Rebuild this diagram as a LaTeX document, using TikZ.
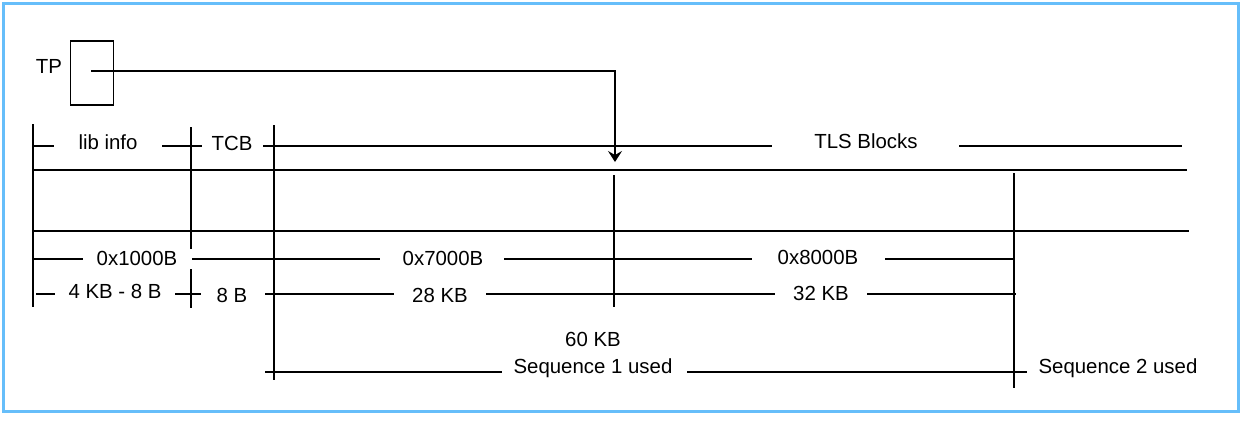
\documentclass[tikz,border=0pt]{standalone}
\usepackage{fontspec}
\setmainfont{Liberation Sans}
\usetikzlibrary{arrows.meta}
\definecolor{frameblue}{RGB}{102,190,250}
\begin{document}
\begin{tikzpicture}[x=0.5pt,y=-0.5pt,
  ln/.style={line width=0.65pt, black},
  lbl/.style={font=\fontsize{10.2}{12}\selectfont, inner sep=0pt, anchor=center},
  boxstyle/.style={draw, line width=0.65pt, minimum width=21.5pt, minimum height=32pt, inner sep=0pt},
]
\useasboundingbox (0,0) rectangle (1244,420);
\draw[frameblue, line width=1.6pt] (3.5,3.5) rectangle (1238.5,411.5);

% TP box and pointer
\node[boxstyle] (tpbox) at (91.75,73) {};
\node[lbl] (tp) at (49,66) {TP};
\coordinate (tpin) at (91,71);
\coordinate (tlstarget) at (615,162);
\draw[ln,-{Stealth[length=5.5pt,width=7pt,inset=2pt]}] (tpin) -| (tlstarget);

% labels
\node[lbl] (libinfo) at (108,142) {lib info};
\node[lbl] (tcb) at (232,143) {TCB};
\node[lbl] (tls) at (866,141) {TLS Blocks};
\node[lbl] (h1000) at (137,258) {0x1000B};
\node[lbl] (h7000) at (443,258) {0x7000B};
\node[lbl] (h8000) at (818,257) {0x8000B};
\node[lbl] (k4) at (115,291) {4 KB - 8 B};
\node[lbl] (b8) at (232,295) {8 B};
\node[lbl] (k28) at (440,295) {28 KB};
\node[lbl] (k32) at (821,293) {32 KB};
\node[lbl] (k60) at (593,339) {60 KB};
\node[lbl] (seq1) at (593,368) {Sequence 1 used};
\node[lbl] (seq2) at (1118,368) {Sequence 2 used};

% header row
\draw[ln] (33,146) -- (54,146);
\draw[ln] (162,146) -- (202,146);
\draw[ln] (263,146) -- (772,146);
\draw[ln] (959,146) -- (1182,146);

% block outline rows
\draw[ln] (33,170) -- (1187,170);
\draw[ln] (32,231) -- (1189,231);

% hex size row
\draw[ln] (33,259) -- (83,259);
\draw[ln] (192,259) -- (380,259);
\draw[ln] (504,259) -- (752,259);
\draw[ln] (885,259) -- (1014,259);

% KB size row
\draw[ln] (36,294) -- (55,294);
\draw[ln] (175,294) -- (201,294);
\draw[ln] (265,294) -- (394,294);
\draw[ln] (486,294) -- (775,294);
\draw[ln] (867,294) -- (1016,294);

% sequence row
\draw[ln] (265,372) -- (502,372);
\draw[ln] (687,372) -- (1027,372);

% verticals
\draw[ln] (33,124) -- (33,307);
\draw[ln] (191,127) -- (191,249);
\draw[ln] (191,269) -- (191,308);
\draw[ln] (274,125) -- (274,380);
\draw[ln] (614,175) -- (614,307);
\draw[ln] (1014,173) -- (1014,388);
\end{tikzpicture}
\end{document}
